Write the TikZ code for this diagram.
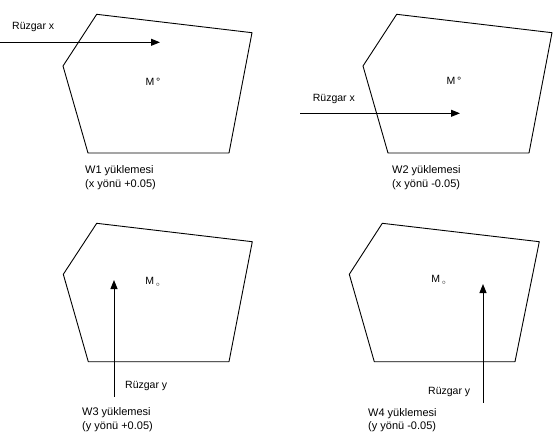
\documentclass[tikz,border=0pt]{standalone}
\usepackage{fontspec}
\setmainfont{Liberation Sans}
\usetikzlibrary{arrows.meta}

\begin{document}
\begin{tikzpicture}[
        x=1pt, y=-1pt, % one unit is one pixel of the drawing
        plan/.style={draw, line width=0.9pt, line join=round},
        wind/.style={draw, line width=1pt, -{Triangle[length=9pt, width=7pt]}},
        lbl/.style={inner sep=0pt, anchor=west, font=\fontsize{10.5}{13}\selectfont},
        caption/.style={lbl, align=left, font=\fontsize{11}{13.5}\selectfont}
      ]
      \useasboundingbox (0,0) rectangle (558,437);

      % Plans
      \draw[plan] (96.7,14.3) -- (252,32.7) -- (229,153) -- (88,153) -- (63,66) -- cycle;
      \draw[plan] (396.7,14.3) -- (552,32.7) -- (529,153) -- (388,153) -- (363,66) -- cycle;
      \draw[plan] (96.7,223.3) -- (252.3,241.7) -- (229,361.7) -- (88.3,361.7) -- (63.3,274.3) -- cycle;
      \draw[plan] (382.3,223.3) -- (539.3,241.7) -- (515,361.7) -- (374.3,361.7) -- (349.3,274.3) -- cycle;

      % Centres
      \node (M1) [lbl, anchor=center] at (153,82) {M\,°};
      \node (M2) [lbl, anchor=center] at (454,81) {M\,°};
      \node (M3) [lbl, anchor=center] at (153,282) {M\,$_{\circ}$};
      \node (M4) [lbl, anchor=center] at (439,280) {M\,$_{\circ}$};

      % Wind labels
      \node (R1) [lbl] at (12,27) {Rüzgar x};
      \node (R2) [lbl] at (312.7,99) {Rüzgar x};
      \node (R3) [lbl] at (125,385.7) {Rüzgar y};
      \node (R4) [lbl] at (428,391.7) {Rüzgar y};

      % Captions
      \node (C1) [caption] at (85,177.5) {W1 yüklemesi\\(x yönü +0.05)};
      \node (C2) [caption] at (392,177.5) {W2 yüklemesi\\(x yönü -0.05)};
      \node (C3) [caption] at (82,419.8) {W3 yüklemesi\\(y yönü +0.05)};
      \node (C4) [caption] at (368,420.3) {W4 yüklemesi\\(y yönü -0.05)};

      % Arrows
      \coordinate (s1) at (0,42.3);   \coordinate (e1) at (160,42.3);
      \coordinate (s2) at (300,113.3); \coordinate (e2) at (460,113.3);
      \coordinate (s3) at (114,396.7); \coordinate (e3) at (114,280);
      \coordinate (s4) at (483,402.7); \coordinate (e4) at (483,284);
      \draw[wind] (s1) -- (e1);
      \draw[wind] (s2) -- (e2);
      \draw[wind] (s3) -- (e3);
      \draw[wind] (s4) -- (e4);

    \end{tikzpicture}
\end{document}
